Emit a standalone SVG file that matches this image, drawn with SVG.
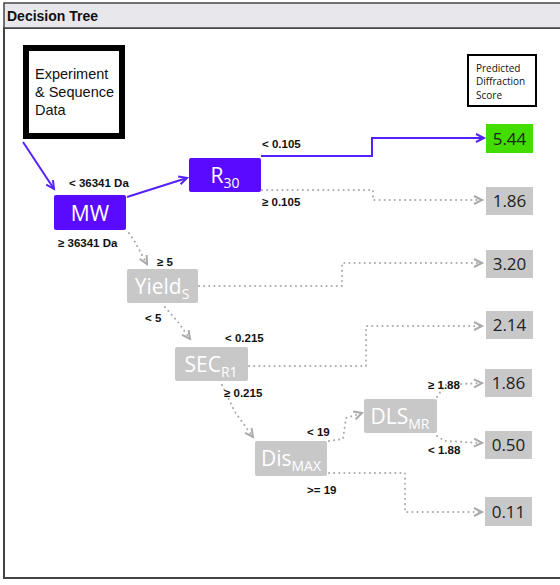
<svg xmlns="http://www.w3.org/2000/svg" width="560" height="585" viewBox="0 0 560 585">
<style>
.lbl{font-family:"Liberation Sans",Arial,sans-serif;font-size:11.5px;font-weight:bold;fill:#111}
.ntxt{font-family:"Open Sans","Noto Sans",sans-serif;font-size:21px;fill:#fff}
.sub{font-size:14px}
.vtxt{font-family:"Open Sans","Noto Sans",sans-serif;font-size:17px;fill:#222}
.pnode{fill:#5a0bff}
.gnode{fill:#c8c8c8}
.val{fill:#c8c8c8}
.pl{fill:none;stroke:#5522ff;stroke-width:2}
.dl{fill:none;stroke:#aaa;stroke-width:2;stroke-dasharray:0.1 5;stroke-linecap:round}
</style>
<defs>
<marker id="ap" markerUnits="userSpaceOnUse" markerWidth="12" markerHeight="12" refX="9" refY="5" orient="auto">
<path d="M1,1 L9,5 L1,9" fill="none" stroke="#5522ff" stroke-width="2"/>
</marker>
<marker id="ag" markerUnits="userSpaceOnUse" markerWidth="12" markerHeight="12" refX="9" refY="5" orient="auto">
<path d="M1,1 L9,5 L1,9" fill="none" stroke="#aaa" stroke-width="2"/>
</marker>
</defs>
<rect x="0" y="0" width="560" height="585" fill="#fff"/>
<g id="frame">
<rect x="4" y="28" width="560" height="550" fill="#fff" stroke="#444" stroke-width="2"/>
<rect x="4" y="3" width="560" height="25" fill="#e8e8ec" stroke="#444" stroke-width="1.5"/>
<text x="7" y="21" font-family="Liberation Sans,Arial,sans-serif" font-size="14" font-weight="bold" fill="#111">Decision Tree</text>
</g>
<g id="connectors">
<line class="pl" x1="23" y1="142" x2="54" y2="189" marker-end="url(#ap)"/>
<line class="pl" x1="127" y1="197" x2="187" y2="178" marker-end="url(#ap)"/>
<polyline class="pl" points="261,156 372,156 372,138 484,138" marker-end="url(#ap)"/>
<polyline class="dl" points="262,190 373,190 373,200 482,200" marker-end="url(#ag)"/>
<polyline class="dl" points="129,233 135,242 147,264" marker-end="url(#ag)"/>
<polyline class="dl" points="199,286 342,286 342,263 482,263" marker-end="url(#ag)"/>
<polyline class="dl" points="165,307 178,322 190,339" marker-end="url(#ag)"/>
<polyline class="dl" points="249,366 366,366 366,326 482,326" marker-end="url(#ag)"/>
<polyline class="dl" points="222,385 235,412 253,437" marker-end="url(#ag)"/>
<polyline class="dl" points="329,441 343,439 346,418 362,413" marker-end="url(#ag)"/>
<polyline class="dl" points="437,397 445,385 482,383" marker-end="url(#ag)"/>
<polyline class="dl" points="437,436 445,441 482,443" marker-end="url(#ag)"/>
<polyline class="dl" points="329,473 405,473 405,512 482,512" marker-end="url(#ag)"/>
</g>
<g id="labels">
<text class="lbl" x="69" y="187">&lt; 36341 Da</text>
<text class="lbl" x="58" y="247">≥ 36341 Da</text>
<text class="lbl" x="262" y="148">&lt; 0.105</text>
<text class="lbl" x="262" y="206">≥ 0.105</text>
<text class="lbl" x="157" y="266">≥ 5</text>
<text class="lbl" x="145" y="322">&lt; 5</text>
<text class="lbl" x="225" y="342">&lt; 0.215</text>
<text class="lbl" x="224" y="397">≥ 0.215</text>
<text class="lbl" x="307" y="436">&lt; 19</text>
<text class="lbl" x="307" y="494">&gt;= 19</text>
<text class="lbl" x="428" y="389">≥ 1.88</text>
<text class="lbl" x="428" y="454">&lt; 1.88</text>
</g>
<g id="experiment">
<rect x="26" y="48" width="96" height="88" fill="#fff" stroke="#000" stroke-width="6"/>
<text font-family="Liberation Sans,Arial,sans-serif" font-size="14.5" fill="#111"><tspan x="35" y="79">Experiment</tspan><tspan x="35" y="97">&amp; Sequence</tspan><tspan x="35" y="115">Data</tspan></text>
</g>
<g id="legend">
<rect x="468" y="55" width="68" height="51" fill="#fff" stroke="#000" stroke-width="2"/>
<text font-family="Open Sans,Noto Sans,sans-serif" font-size="10" fill="#111"><tspan x="476" y="72">Predicted</tspan><tspan x="476" y="85">Diffraction</tspan><tspan x="476" y="99">Score</tspan></text>
</g>
<g id="MW">
<rect class="pnode" x="54" y="195" width="72" height="35" rx="2"/>
<text class="ntxt" x="90" y="221" text-anchor="middle">MW</text>
</g>
<g id="R30">
<rect class="pnode" x="189" y="158" width="72" height="34" rx="2"/>
<text class="ntxt" x="225" y="183" text-anchor="middle">R<tspan class="sub" dy="5">30</tspan></text>
</g>
<g id="Yield">
<rect class="gnode" x="127" y="269" width="71" height="34" rx="2"/>
<text class="ntxt" x="162" y="294" text-anchor="middle">Yield<tspan class="sub" dy="5">S</tspan></text>
</g>
<g id="SEC">
<rect class="gnode" x="175" y="347" width="73" height="34" rx="2"/>
<text class="ntxt" x="211" y="372" text-anchor="middle">SEC<tspan class="sub" dy="5">R1</tspan></text>
</g>
<g id="Dis">
<rect class="gnode" x="255" y="441" width="72" height="35" rx="2"/>
<text class="ntxt" x="291" y="466" text-anchor="middle">Dis<tspan class="sub" dy="5">MAX</tspan></text>
</g>
<g id="DLS">
<rect class="gnode" x="364" y="399" width="73" height="34" rx="2"/>
<text class="ntxt" x="400" y="424" text-anchor="middle">DLS<tspan class="sub" dy="5">MR</tspan></text>
</g>
<g id="v544"><rect x="486" y="124" width="47" height="29" fill="#44dd00"/><text class="vtxt" x="509.5" y="145" text-anchor="middle">5.44</text></g>
<g id="v186a"><rect class="val" x="486" y="187" width="47" height="28"/><text class="vtxt" x="509.5" y="207" text-anchor="middle">1.86</text></g>
<g id="v320"><rect class="val" x="486" y="250" width="47" height="28"/><text class="vtxt" x="509.5" y="270" text-anchor="middle">3.20</text></g>
<g id="v214"><rect class="val" x="486" y="311" width="47" height="28"/><text class="vtxt" x="509.5" y="331" text-anchor="middle">2.14</text></g>
<g id="v186b"><rect class="val" x="485" y="369" width="47" height="28"/><text class="vtxt" x="508.5" y="389" text-anchor="middle">1.86</text></g>
<g id="v050"><rect class="val" x="485" y="431" width="47" height="28"/><text class="vtxt" x="508.5" y="451" text-anchor="middle">0.50</text></g>
<g id="v011"><rect class="val" x="485" y="497" width="47" height="29"/><text class="vtxt" x="508.5" y="518" text-anchor="middle">0.11</text></g>
</svg>
